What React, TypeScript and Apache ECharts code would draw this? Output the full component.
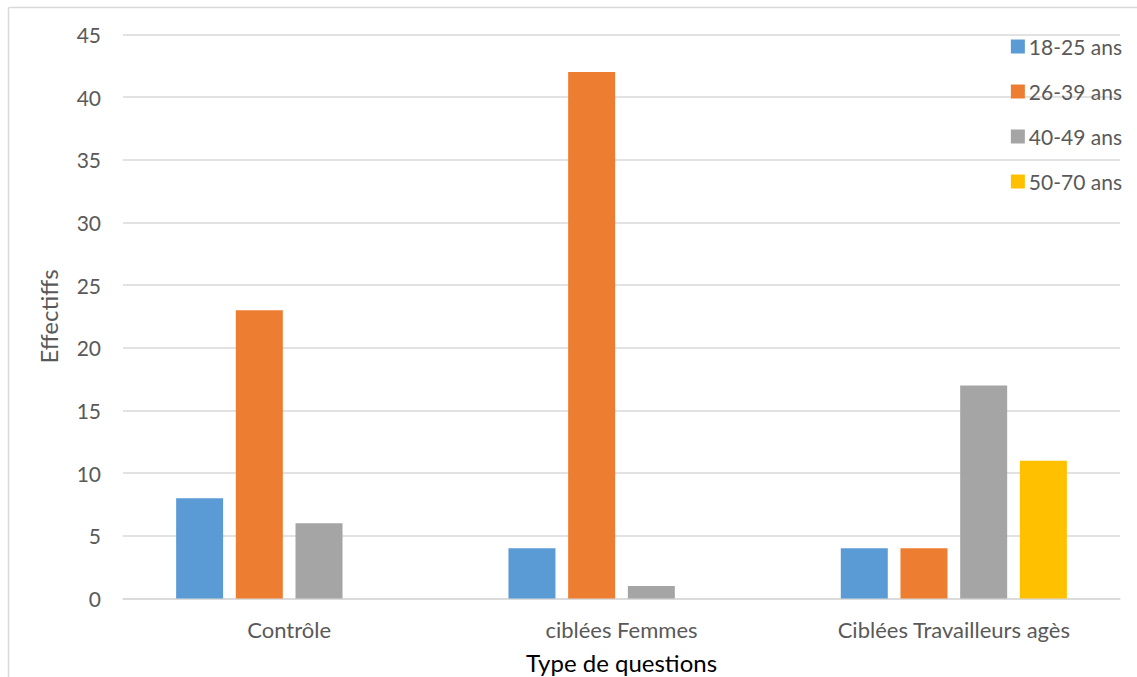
import React, { useEffect, useRef } from "react";
import * as echarts from "echarts";

const categories = ["Contrôle", "ciblées Femmes", "Ciblées Travailleurs agès"];
const seriesNames = ["18-25 ans", "26-39 ans", "40-49 ans", "50-70 ans"];
const s18_25 = [8, 4, 4];
const s26_39 = [23, 42, 4];
const s40_49 = [6, 1, 17];
const s50_70 = [0, 0, 11];
const colors = ["#5B9BD5", "#ED7D31", "#A5A5A5", "#FFC000"];
const yTicks = { min: 0, max: 45, interval: 5 };

const FONT = "Lato, 'Open Sans', sans-serif";

export default function App() {
  const ref = useRef<HTMLDivElement>(null);
  useEffect(() => {
    if (!ref.current) return;
    const chart = echarts.init(ref.current, undefined, { renderer: "svg" });
    const values = [s18_25, s26_39, s40_49, s50_70];
    chart.setOption({
      animation: false,
      backgroundColor: "#ffffff",
      textStyle: { fontFamily: FONT },
      grid: {
        left: 123,
        right: 17,
        top: 34.5,
        bottom: 78.5,
        containLabel: false,
        outerBoundsMode: "none",
      },
      legend: {
        orient: "vertical",
        right: 10,
        top: 29,
        itemWidth: 14,
        itemHeight: 14,
        itemGap: 20,
        icon: "rect",
        textStyle: { fontSize: 21, color: "#595959", fontFamily: FONT, padding: [0, 0, 0, -1], lineHeight: 25 },
        data: seriesNames,
      },
      xAxis: {
        type: "category",
        data: categories,
        axisLine: { show: true, lineStyle: { color: "#d9d9d9", width: 1.5 } },
        axisTick: { show: false },
        axisLabel: { fontSize: 22, color: "#595959", margin: 20, fontFamily: FONT },
        name: "Type de questions",
        nameLocation: "middle",
        nameGap: 52,
        nameTextStyle: { fontSize: 24, color: "#000000", fontFamily: FONT },
      },
      yAxis: {
        type: "value",
        min: yTicks.min,
        max: yTicks.max,
        interval: yTicks.interval,
        axisLine: { show: false },
        axisTick: { show: false },
        splitLine: { lineStyle: { color: "#d9d9d9", width: 1.5 } },
        axisLabel: { fontSize: 21, color: "#595959", margin: 22, fontFamily: FONT },
        name: "Effectiffs",
        nameLocation: "middle",
        nameGap: 63,
        nameTextStyle: { fontSize: 24, color: "#595959", fontFamily: FONT },
      },
      series: seriesNames.map((n, i) => ({
        name: n,
        type: "bar",
        data: values[i],
        barWidth: 47,
        barGap: "27%",
        itemStyle: { color: colors[i] },
      })),
      graphic: [
        {
          type: "line",
          shape: { x1: 8.5, y1: 7.5, x2: 1137, y2: 7.5 },
          style: { stroke: "#d9d9d9", lineWidth: 1.5 },
          silent: true,
        },
        {
          type: "line",
          shape: { x1: 8.5, y1: 7.5, x2: 8.5, y2: 677 },
          style: { stroke: "#d9d9d9", lineWidth: 1.5 },
          silent: true,
        },
      ],
    });
    return () => chart.dispose();
  }, []);
  return (
    <div
      ref={ref}
      style={{ position: "fixed", left: 0, top: 0, width: 1137, height: 677 }}
    />
  );
}
